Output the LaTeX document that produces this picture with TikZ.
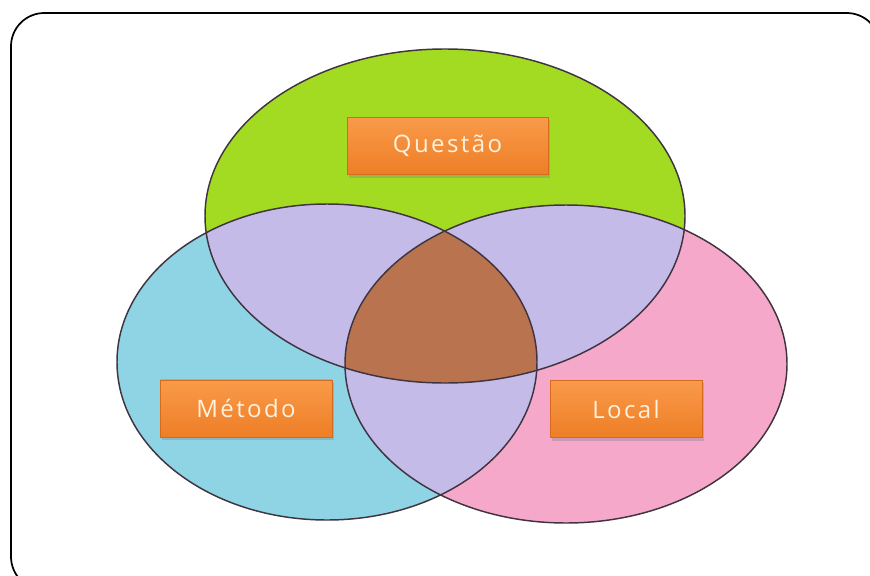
\documentclass[tikz,border=0pt]{standalone}
\usepackage{fontspec}
\newfontfamily\boxfont[LetterSpace=10]{Open Sans}
\usetikzlibrary{shadows}
\definecolor{qgreen}{HTML}{A2DB22}
\definecolor{mblue}{HTML}{8ED4E4}
\definecolor{lpink}{HTML}{F6A8CB}
\definecolor{pairlav}{HTML}{C4BBE8}
\definecolor{triple}{HTML}{B9744F}
\definecolor{rimdark}{HTML}{3F3440}
\definecolor{boxtop}{HTML}{F99A4A}
\definecolor{boxbot}{HTML}{EE7E26}
\definecolor{boxrim}{HTML}{D56B1C}
\definecolor{boxtext}{HTML}{FFF1DC}
\tikzset{
  labelbox/.style={rectangle, top color=boxtop, bottom color=boxbot, draw=boxrim,
    line width=0.4pt, text=boxtext, font=\boxfont\fontsize{18}{21}\selectfont,
    minimum height=43pt, inner sep=0pt,
    drop shadow={shadow xshift=1.2pt, shadow yshift=-2.2pt, opacity=0.35}},
  rim/.style={draw=rimdark, line width=1.1pt}
}
\newcommand{\qpath}{(445,216) ellipse [x radius=240, y radius=167]}
\newcommand{\mpath}{(327,362) ellipse [x radius=210, y radius=158]}
\newcommand{\lpath}{(566,364) ellipse [x radius=221, y radius=159]}
\begin{document}
\begin{tikzpicture}[x=0.75pt,y=-0.75pt]
  \useasboundingbox (0,0) rectangle (870,575);
  \fill[white] (0,0) rectangle (870,575);
  \begin{scope}
    \clip (0,0) rectangle (870,575);
    % outer frame
    \draw[black, line width=1.3pt, rounded corners=25pt] (11,13) rectangle (880,590);
  \end{scope}
  % the three sets
  \fill[qgreen] \qpath;
  \fill[mblue] \mpath;
  \fill[lpink] \lpath;
  % pairwise overlaps
  \begin{scope}
    \clip \qpath;
    \fill[pairlav] \mpath;
    \fill[pairlav] \lpath;
  \end{scope}
  \begin{scope}
    \clip \mpath;
    \fill[pairlav] \lpath;
  \end{scope}
  % common overlap
  \begin{scope}
    \clip \qpath;
    \clip \mpath;
    \fill[triple] \lpath;
  \end{scope}
  % outlines
  \draw[rim] \qpath;
  \draw[rim] \mpath;
  \draw[rim] \lpath;
  % labels
  \node[labelbox, minimum width=150.75pt] (questao) at (447.5,146) {Questão};
  \node[labelbox, minimum width=129pt] (metodo) at (246,408.5) {Método};
  \node[labelbox, minimum width=114pt] (local) at (626,409) {Local};
\end{tikzpicture}
\end{document}
